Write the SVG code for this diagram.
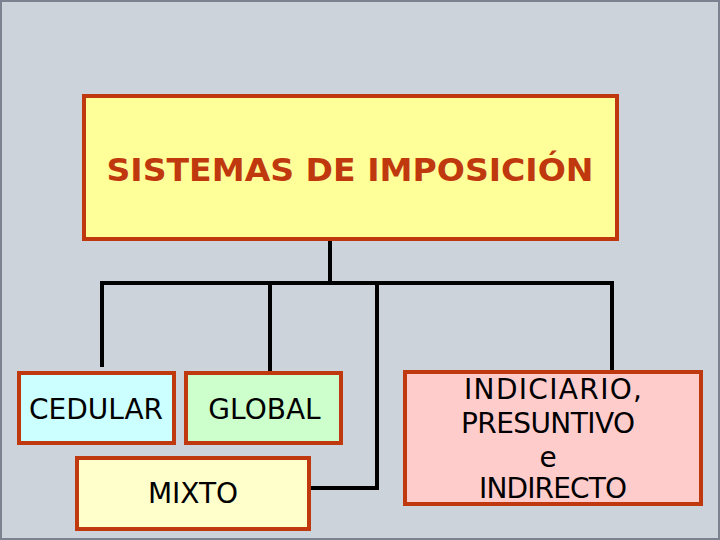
<svg xmlns="http://www.w3.org/2000/svg" width="720" height="540" viewBox="0 0 720 540">
<style>
.box{stroke:#C0390E;stroke-width:4}
.t{font-family:"DejaVu Sans",Verdana,sans-serif;font-size:28px;fill:#000;text-anchor:middle}
.title{font-family:"DejaVu Sans",Verdana,sans-serif;font-weight:bold;font-size:32px;fill:#C0390E;text-anchor:middle}
.c{stroke:#000;stroke-width:4;fill:none}
</style>
<rect x="1" y="1" width="718" height="538" fill="#CDD3DB" stroke="#7B8390" stroke-width="2"/>
<g id="connectors">
<line class="c" x1="330" y1="241" x2="330" y2="283"/>
<line class="c" x1="100" y1="283" x2="614" y2="283"/>
<line class="c" x1="102" y1="283" x2="102" y2="367"/>
<line class="c" x1="270" y1="283" x2="270" y2="372"/>
<path class="c" d="M377 283 V488 H311"/>
<line class="c" x1="612" y1="283" x2="612" y2="371"/>
</g>
<g id="sistemas">
<rect class="box" x="84" y="96" width="533" height="143" fill="#FFFF99"/>
<text class="title" x="350" y="181" textLength="487" lengthAdjust="spacingAndGlyphs">SISTEMAS DE IMPOSICIÓN</text>
</g>
<g id="cedular">
<rect class="box" x="19" y="373" width="155" height="70" fill="#CCFFFF"/>
<text class="t" x="96" y="419">CEDULAR</text>
</g>
<g id="global">
<rect class="box" x="186" y="373" width="155" height="70" fill="#CCFFCC"/>
<text class="t" x="264.5" y="419">GLOBAL</text>
</g>
<g id="mixto">
<rect class="box" x="77" y="458" width="232" height="71" fill="#FFFFCC"/>
<text class="t" x="193" y="503">MIXTO</text>
</g>
<g id="indiciario">
<rect class="box" x="405" y="372" width="296" height="132" fill="#FFCCCC"/>
<text class="t" x="553" y="399" font-size="27" textLength="178" lengthAdjust="spacing">INDICIARIO,</text>
<text class="t" x="548" y="433" font-size="27" textLength="174" lengthAdjust="spacing">PRESUNTIVO</text>
<text class="t" x="548" y="467" font-size="27">e</text>
<text class="t" x="553" y="498" font-size="27" textLength="148" lengthAdjust="spacing">INDIRECTO</text>
</g>
</svg>
